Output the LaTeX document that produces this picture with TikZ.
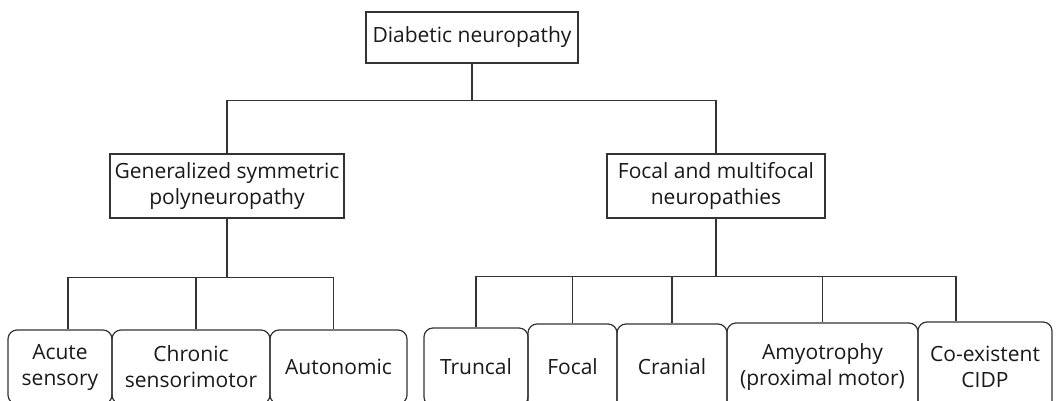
\documentclass[tikz,border=0pt]{standalone}
\usepackage{fontspec}
\setmainfont{Open Sans}
\begin{document}
\begin{tikzpicture}[
    x=1pt, y=-1pt,
    box/.style={draw=black!80, line width=1.2pt, inner sep=0pt, align=center,
      text=black!90, font=\fontsize{21}{26}\selectfont},
    leaf/.style={box, rounded corners=9pt},
    wire/.style={draw=black!80, line width=1.2pt}
    ]
  \useasboundingbox (0,0) rectangle (1060,401);
  \clip (0,0) rectangle (1060,401);
	\node [box, minimum width=212pt, minimum height=51pt] (root) at (472,37.5) {Diabetic neuropathy};
	\node [box, minimum width=234pt, minimum height=64pt] (gsp) at (227,186) {Generalized symmetric\\polyneuropathy};
	\node [box, minimum width=218pt, minimum height=64pt] (fmn) at (716,186) {Focal and multifocal\\neuropathies};
	\node [leaf, minimum width=104pt, minimum height=74pt] (acute) at (60,367) {Acute\\sensory};
	\node [leaf, minimum width=158pt, minimum height=74pt] (chronic) at (191,367) {Chronic\\sensorimotor};
	\node [leaf, minimum width=137pt, minimum height=74pt] (auto) at (338.5,367) {Autonomic};
	\node [leaf, minimum width=104pt, minimum height=78pt] (truncal) at (476,367) {Truncal};
	\node [leaf, minimum width=89pt, minimum height=86pt] (focal) at (572.5,367) {Focal};
	\node [leaf, minimum width=110pt, minimum height=86pt] (cranial) at (672,367) {Cranial};
	\node [leaf, minimum width=191pt, minimum height=88pt] (amyo) at (822.5,367) {Amyotrophy\\(proximal motor)};
	\node [leaf, minimum width=134pt, minimum height=90pt] (cidp) at (985,367) {Co-existent\\CIDP};
	\draw [wire] (root.south) -- ++(0,37) coordinate (topbus);
	\draw [wire] (gsp.north) |- (topbus) -| (fmn.north);
	\draw [wire] (gsp.south) -- ++(0,59) coordinate (leftbus);
	\draw [wire] ([xshift=8pt]acute.north) |- (leftbus) -| ([xshift=-5pt]auto.north);
	\draw [wire] ([xshift=5pt]chronic.north) -- ([xshift=5pt]chronic.north |- leftbus);
	\draw [wire] (fmn.south) -- ++(0,58) coordinate (rightbus);
	\draw [wire] (truncal.north) |- (rightbus) -| ([xshift=-29pt]cidp.north);
	\draw [wire] (focal.north) -- (focal.north |- rightbus);
	\draw [wire] (cranial.north) -- (cranial.north |- rightbus);
	\draw [wire] (amyo.north) -- (amyo.north |- rightbus);
\end{tikzpicture}
\end{document}
